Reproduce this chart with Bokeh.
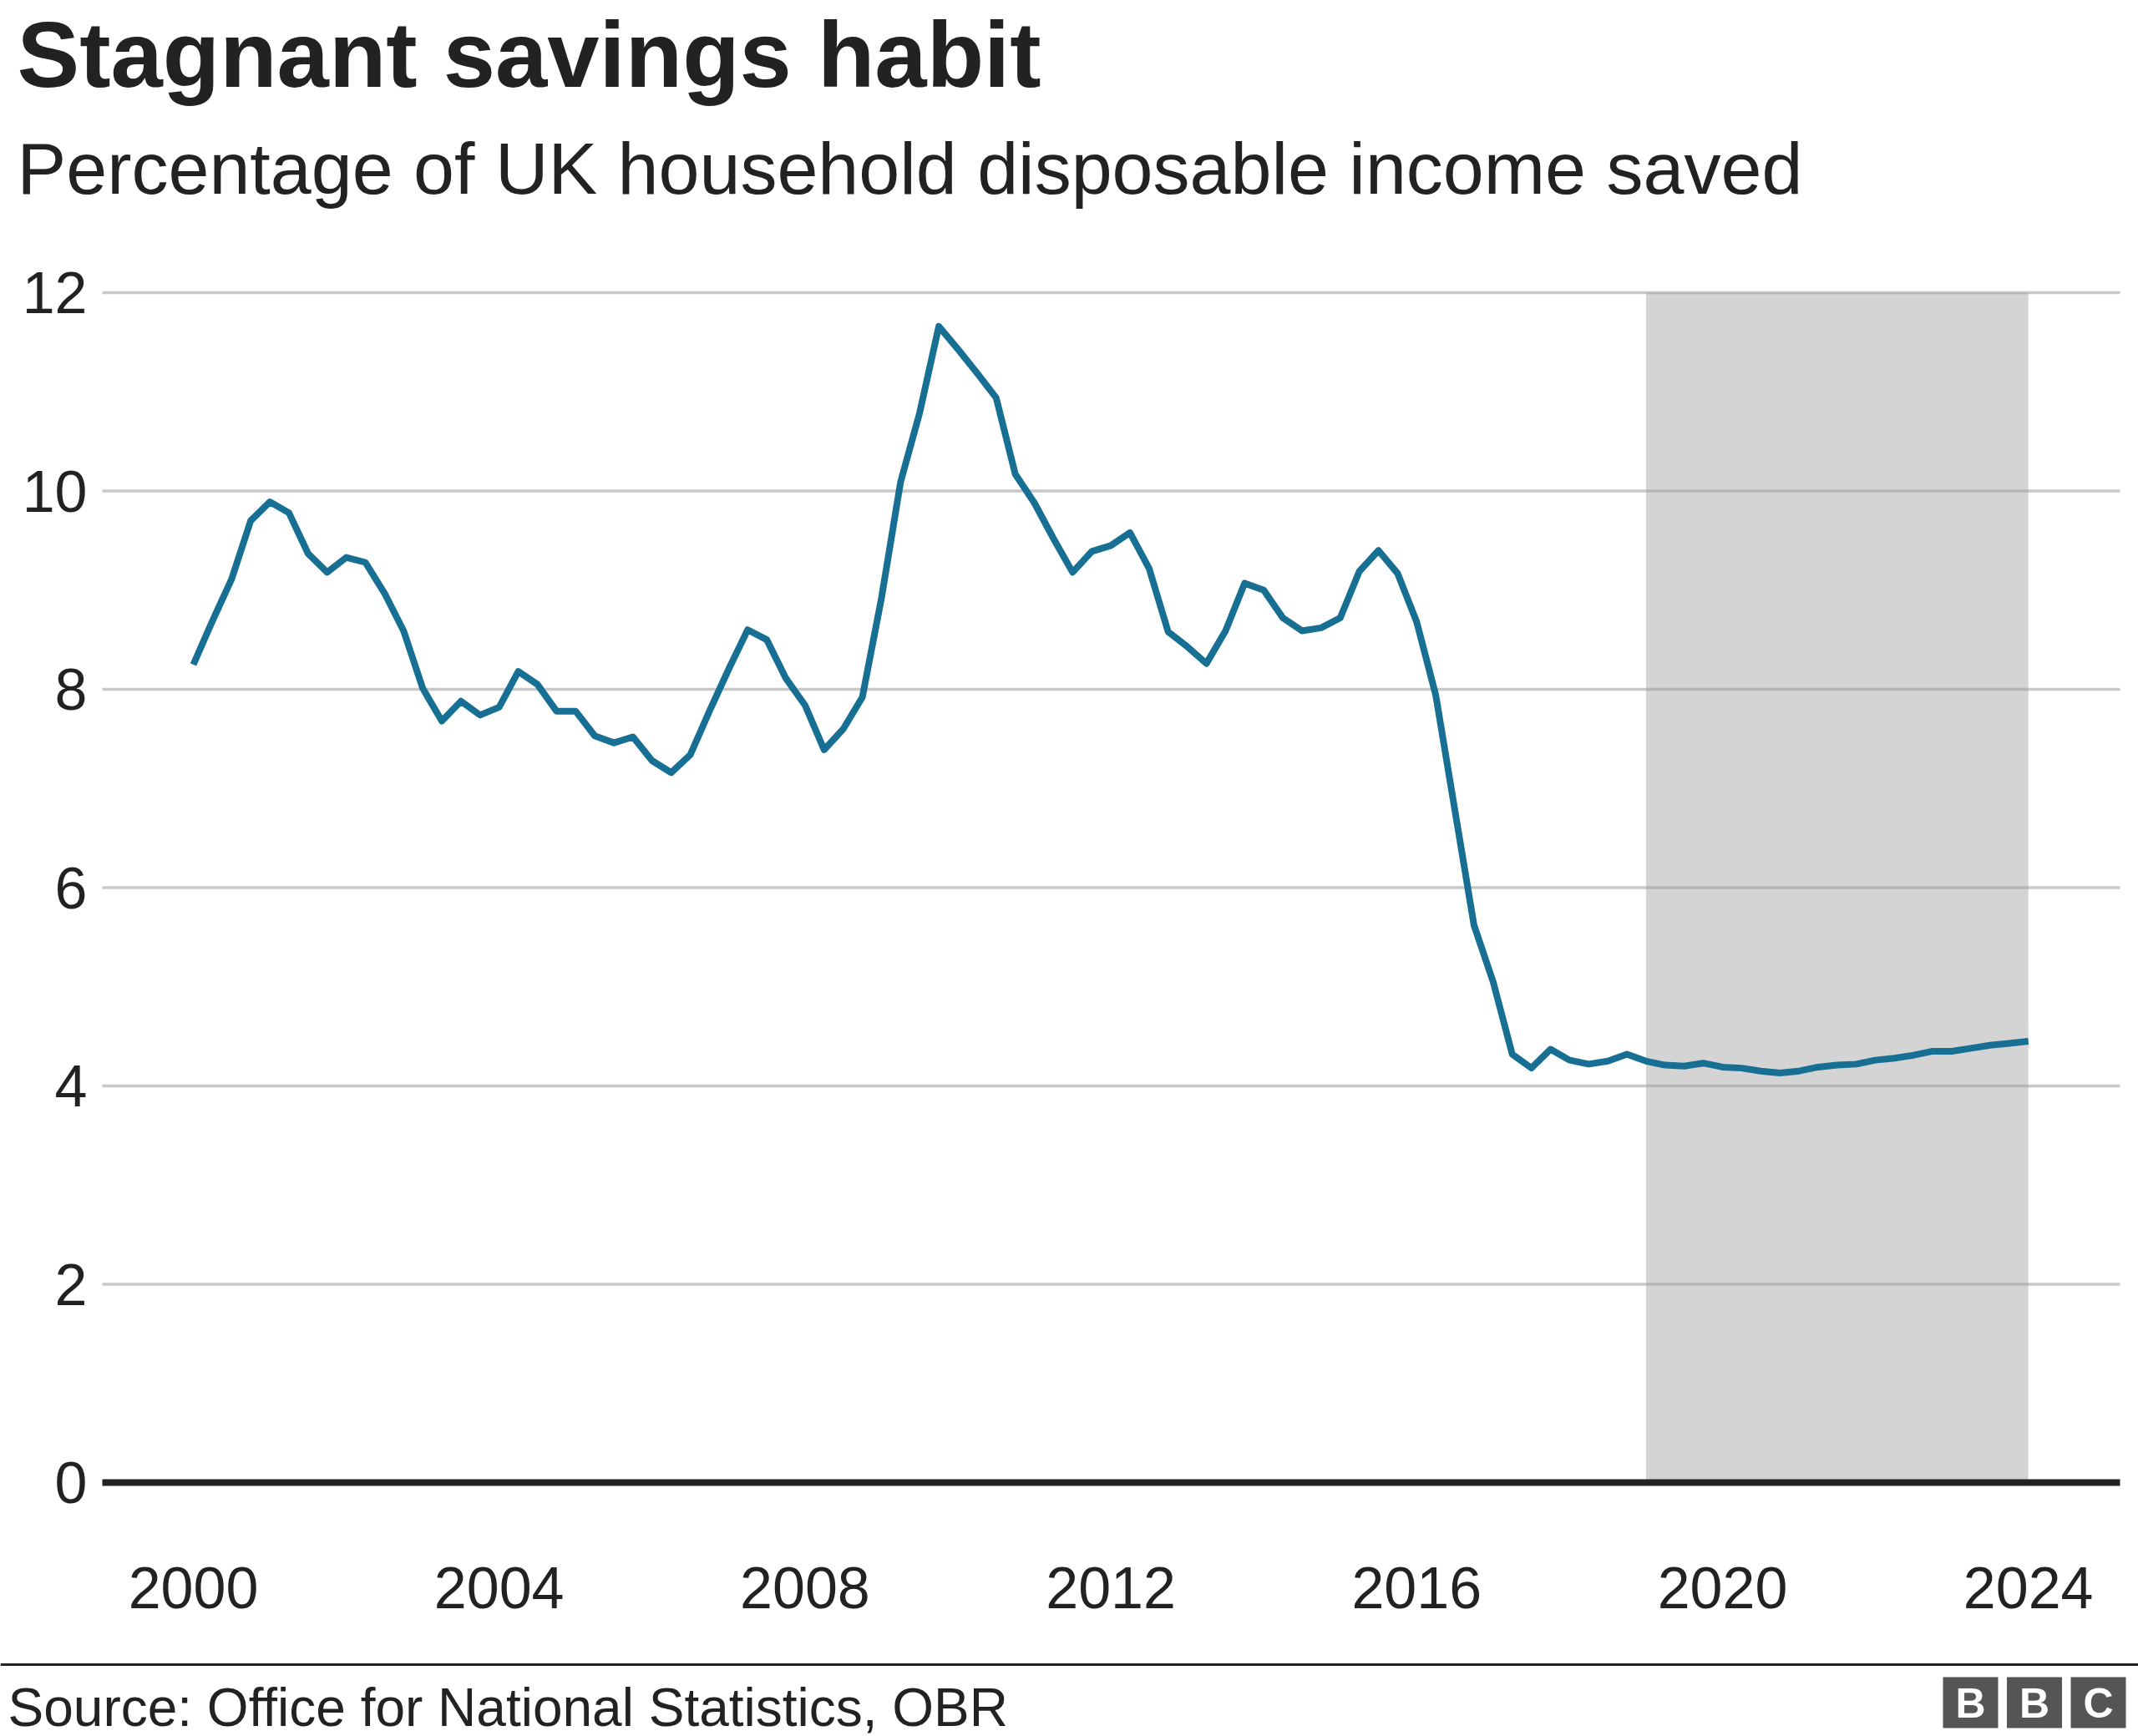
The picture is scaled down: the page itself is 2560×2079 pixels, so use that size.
from bokeh.plotting import figure
from bokeh.models import Range1d, FixedTicker, Label, BoxAnnotation
from bokeh.embed import file_html
from bokeh.resources import INLINE

# ---------------- data ----------------
title_text = "Stagnant savings habit"
subtitle_text = "Percentage of UK household disposable income saved"
source_text = "Source: Office for National Statistics, OBR"

start_year = 2000
# quarterly savings ratio, 2000 Q1 .. 2024 Q1 (forecast from 2019)
savings = [
    8.25, 8.69, 9.11, 9.70,   # 2000
    9.89, 9.78, 9.37, 9.18,   # 2001
    9.33, 9.28, 8.97, 8.59,   # 2002
    8.01, 7.68, 7.88, 7.74,   # 2003
    7.82, 8.18, 8.05, 7.78,   # 2004
    7.78, 7.53, 7.46, 7.52,   # 2005
    7.28, 7.16, 7.34, 7.78,   # 2006
    8.20, 8.60, 8.50, 8.11,   # 2007
    7.84, 7.39, 7.60, 7.92,   # 2008
    8.92, 10.09, 10.79, 11.66,  # 2009
    11.43, 11.19, 10.94, 10.17,  # 2010
    9.88, 9.52, 9.18, 9.39,   # 2011
    9.45, 9.58, 9.22, 8.58,   # 2012
    8.43, 8.26, 8.59, 9.07,   # 2013
    9.00, 8.72, 8.59, 8.62,   # 2014
    8.72, 9.19, 9.40, 9.17,   # 2015
    8.68, 7.94, 6.78, 5.62,   # 2016
    5.05, 4.32, 4.18, 4.37,   # 2017
    4.26, 4.22, 4.25, 4.32,   # 2018
    4.25, 4.21, 4.20, 4.23,   # 2019
    4.19, 4.18, 4.15, 4.13,   # 2020
    4.15, 4.19, 4.21, 4.22,   # 2021
    4.26, 4.28, 4.31, 4.35,   # 2022
    4.35, 4.38, 4.41, 4.43,   # 2023
    4.45,                     # 2024 Q1
]
quarters = [start_year + i / 4 for i in range(len(savings))]

forecast_start = 2019
forecast_end = 2024
y_ticks = [0, 2, 4, 6, 8, 10, 12]
x_ticks = [2000, 2004, 2008, 2012, 2016, 2020, 2024]
logo_letters = ["B", "B", "C"]

# ---------------- styling / layout ----------------
FONT = "Liberation Sans"
TEXT = "#222222"
LINE = "#176f93"
W, H = 2560, 2079

# pixel -> data helpers (only used to place decorations and axes on the canvas)
PX_PER_YEAR = 91.55
X2000_PX = 231.0
PX_PER_UNIT = 118.75
Y0_PX = 1775.0


def xd(px):
    return start_year + (px - X2000_PX) / PX_PER_YEAR


def yd(py):
    return (Y0_PX - py) / PX_PER_UNIT


plot_left, plot_right, plot_bottom = 122, 2538, 1785

# the frame covers the whole canvas; axes sit at fixed locations inside it
p = figure(width=W, height=H,
           x_range=Range1d(xd(0), xd(W)), y_range=Range1d(yd(H), yd(0)),
           output_backend="svg", toolbar_location=None, min_border=0)
p.outline_line_color = None
p.grid.visible = False

# horizontal gridlines at the y ticks
grid_ticks = [t for t in y_ticks if t != 0]
p.segment(x0=[xd(plot_left)] * len(grid_ticks), x1=[xd(plot_right)] * len(grid_ticks),
          y0=grid_ticks, y1=grid_ticks, line_color="#c8c8c8", line_width=3.5)

# forecast shading
p.quad(left=[forecast_start], right=[forecast_end], bottom=[0], top=[max(y_ticks)],
       fill_color="#9c9c9c", fill_alpha=0.44, line_color=None)

# zero baseline
p.segment(x0=[xd(plot_left)], x1=[xd(plot_right)], y0=[0], y1=[0],
          line_color=TEXT, line_width=8)

# data line
p.line(quarters, savings, line_color=LINE, line_width=8, line_join="round")

for ax in (p.xaxis, p.yaxis):
    ax.axis_line_color = None
    ax.major_tick_line_color = None
    ax.minor_tick_line_color = None
    ax.major_label_text_font = FONT
    ax.major_label_text_font_size = "70px"
    ax.major_label_text_color = TEXT
p.xaxis.ticker = FixedTicker(ticks=x_ticks)
p.yaxis.ticker = FixedTicker(ticks=y_ticks)
p.xaxis.fixed_location = yd(plot_bottom)
p.yaxis.fixed_location = xd(plot_left)
p.xaxis.major_label_standoff = 85
p.yaxis.major_label_standoff = 12

# titles
p.add_layout(Label(x=xd(20), y=yd(65), text=title_text, text_font=FONT,
                   text_font_style="bold", text_font_size="112px", text_color=TEXT,
                   text_baseline="alphabetic", text_align="left"))
p.add_layout(Label(x=xd(20), y=yd(201), text=subtitle_text, text_font=FONT,
                   text_font_size="88px", text_color=TEXT,
                   text_baseline="alphabetic", text_align="left"))

# footer
p.add_layout(BoxAnnotation(left=xd(0), right=xd(W), top=yd(1991.5), bottom=yd(1994.5),
                           fill_color=TEXT, fill_alpha=1, line_color=None))
p.add_layout(Label(x=xd(9), y=yd(2044), text=source_text, text_font=FONT,
                   text_font_size="64px", text_color=TEXT,
                   text_baseline="alphabetic", text_align="left"))
for i, letter in enumerate(logo_letters):
    left = 2326 + i * 76.5
    p.add_layout(BoxAnnotation(left=xd(left), right=xd(left + 66), top=yd(2008), bottom=yd(2069),
                               fill_color="#555555", fill_alpha=1, line_color=None))
    p.add_layout(Label(x=xd(left + 33), y=yd(2039), text=letter, text_font=FONT,
                       text_font_style="bold", text_font_size="50px", text_color="white",
                       text_baseline="alphabetic", text_align="center"))

open("out.html", "w").write(file_html(p, INLINE))
